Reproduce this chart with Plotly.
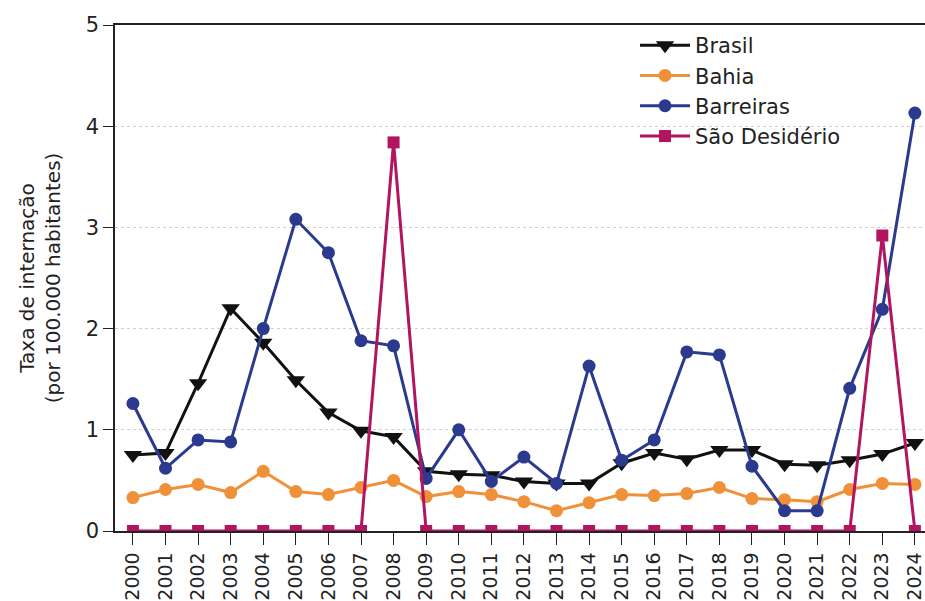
import plotly.graph_objects as go

years = list(range(2000, 2025))

brasil = [0.75, 0.77, 1.46, 2.20, 1.86, 1.49, 1.17, 0.99, 0.93, 0.59, 0.56, 0.55, 0.49,
          0.47, 0.47, 0.67, 0.77, 0.71, 0.80, 0.80, 0.66, 0.65, 0.70, 0.76, 0.87]
bahia = [0.33, 0.41, 0.46, 0.38, 0.59, 0.39, 0.36, 0.43, 0.50, 0.34, 0.39, 0.36, 0.29,
         0.20, 0.28, 0.36, 0.35, 0.37, 0.43, 0.32, 0.31, 0.29, 0.41, 0.47, 0.46]
barreiras = [1.26, 0.62, 0.90, 0.88, 2.00, 3.08, 2.75, 1.88, 1.83, 0.52, 1.00, 0.49, 0.73,
             0.47, 1.63, 0.70, 0.90, 1.77, 1.74, 0.64, 0.20, 0.20, 1.41, 2.19, 4.13]
sao_desiderio = [0, 0, 0, 0, 0, 0, 0, 0, 3.84, 0, 0, 0, 0,
                 0, 0, 0, 0, 0, 0, 0, 0, 0, 0, 2.92, 0]

FONT = "DejaVu Sans"

fig = go.Figure()

series = [
    ("Brasil", brasil, "#111111", "triangle-down", 16),
    ("Bahia", bahia, "#F0913A", "circle", 13),
    ("Barreiras", barreiras, "#2B3A8F", "circle", 13),
    ("São Desidério", sao_desiderio, "#B3145F", "square", 12),
]

for name, vals, color, symbol, size in series:
    fig.add_trace(go.Scatter(
        x=years, y=vals, name=name, mode="lines+markers",
        line=dict(color=color, width=3),
        marker=dict(symbol=symbol, size=size, color=color),
    ))

fig.update_layout(
    width=925, height=601,
    margin=dict(l=115, r=0, t=25, b=70),
    plot_bgcolor="white", paper_bgcolor="white",
    font=dict(family=FONT, size=19, color="#222222"),
    showlegend=True,
    legend=dict(
        x=0.642, y=1.0, xanchor="left", yanchor="top",
        bgcolor="rgba(0,0,0,0)", font=dict(size=21, color="#222222"),
        itemwidth=50, tracegroupgap=0,
    ),
    xaxis=dict(
        range=[1999.45, 2024.31],
        tickmode="array", tickvals=years, ticktext=[str(y) for y in years],
        tickangle=-90, ticks="outside", ticklen=12, tickcolor="#222222",
        ticklabeloverflow="allow",
        showline=True, linecolor="#222222", linewidth=1.5, mirror=True,
        showgrid=False, zeroline=False,
        tickfont=dict(size=19),
    ),
    yaxis=dict(
        range=[0, 5], tickvals=[0, 1, 2, 3, 4, 5],
        ticks="outside", ticklen=10, tickcolor="#222222",
        showline=True, linecolor="#222222", linewidth=1.5,
        showgrid=True, gridcolor="#d0d0d0", griddash="dot", gridwidth=1,
        zeroline=False,
        title=dict(text="Taxa de internação<br>(por 100.000 habitantes)",
                   font=dict(size=20), standoff=20),
        tickfont=dict(size=21),
    ),
)

fig.write_html("out.html")
